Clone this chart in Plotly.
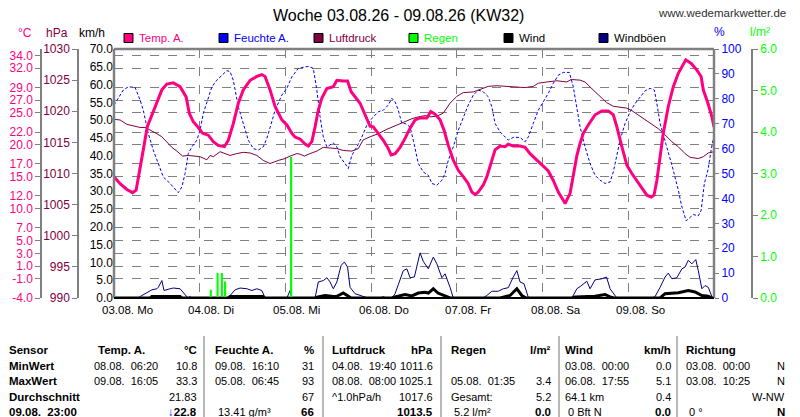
import plotly.graph_objects as go

# Stunden ab 03.08. 00:00
day_h = [0, 24, 48, 72, 96, 120, 144]
day_lbl = ["03.08.  Mo", "04.08.  Di", "05.08.  Mi", "06.08.  Do", "07.08.  Fr", "08.08.  Sa", "09.08.  So"]

temp_h = [0, 1.7, 3.6, 5.2, 6.2, 7.1, 8.2, 9.3, 10.6, 12.0,
          13.4, 14.8, 16.6, 18.5, 20.2, 21.1, 22.2, 23.6, 24.8, 26.4,
          27.8, 29.2, 30.9, 32.0, 33.4, 34.8, 36.2, 38.1, 40.0, 41.4,
          42.3, 43.7, 45.1, 47.0, 48.4, 49.8, 50.7, 52.1, 53.5, 54.4,
          55.4, 56.3, 57.2, 58.2, 59.6, 61.4, 62.4, 64.2, 65.4, 66.4,
          67.5, 68.9, 70.3, 71.7, 72.6, 74.0, 75.4, 76.8, 77.6, 78.7,
          80.1, 81.5, 82.9, 84.3, 85.7, 87.6, 88.7, 89.9, 91.3, 92.4,
          93.6, 95.0, 96.4, 97.8, 99.2, 100.2, 101.1, 102.0, 103.4, 104.4,
          105.5, 106.7, 108.1, 109.5, 110.4, 111.8, 113.7, 115.1, 116.5, 118.4,
          120.2, 121.6, 123.0, 124.4, 125.8, 126.3, 127.7, 128.6, 129.6, 130.5,
          131.4, 132.8, 134.7, 136.6, 138.4, 139.8, 140.8, 142.2, 143.6, 145.0,
          146.4, 147.8, 149.2, 150.4, 151.2, 152.0, 152.9, 153.8, 155.2, 156.6,
          158.0, 159.4, 160.1, 161.7, 163.2, 164.4, 165.0, 166.3, 167.4, 168.0]
temp_c = [15.0, 13.9, 13.0, 12.5, 12.9, 15.5, 19.2, 22.8, 24.7, 26.7,
          28.6, 29.5, 29.7, 29.1, 27.5, 24.9, 23.6, 22.7, 21.8, 21.5,
          20.5, 19.9, 19.7, 20.7, 23.3, 26.5, 28.6, 30.1, 30.7, 31.0,
          30.7, 28.6, 26.0, 23.9, 23.1, 21.8, 21.2, 20.9, 20.1, 19.8,
          20.5, 22.8, 25.4, 27.3, 28.8, 29.1, 30.1, 30.0, 30.0, 28.3,
          27.5, 26.5, 24.7, 22.9, 22.8, 21.8, 20.7, 19.4, 18.4, 18.6,
          19.6, 21.0, 22.6, 23.9, 24.2, 24.2, 25.2, 24.8, 23.9, 22.3,
          19.9, 17.6, 16.0, 15.0, 13.9, 12.6, 12.2, 12.6, 13.7, 15.0,
          17.1, 19.2, 19.8, 19.7, 20.1, 19.8, 19.8, 19.6, 18.6, 17.6,
          16.5, 15.9, 14.4, 12.6, 11.3, 10.8, 12.4, 15.5, 18.3, 20.2,
          21.8, 23.1, 24.7, 25.3, 25.3, 24.7, 22.8, 19.7, 16.8, 15.5,
          14.4, 13.1, 12.1, 11.8, 12.1, 14.4, 18.1, 21.8, 26.0, 29.1,
          31.2, 32.7, 33.3, 32.7, 31.7, 30.7, 28.6, 26.5, 24.4, 22.8]

hum_h = [0, 1.2, 2.6, 4.0, 5.9, 7.3, 8.2, 9.6, 11.0, 12.4,
         13.8, 15.7, 17.1, 18.0, 19.0, 19.9, 20.8, 21.8, 23.2, 24.1,
         25.0, 26.4, 27.4, 28.8, 30.2, 31.6, 32.5, 33.4, 34.8, 36.2,
         37.6, 39.0, 40.4, 41.8, 42.8, 43.7, 45.1, 47.0, 48.4, 49.8,
         51.6, 53.5, 54.6, 55.8, 56.8, 57.7, 58.6, 59.6, 60.5, 61.4,
         62.4, 63.3, 64.7, 65.6, 66.6, 68.0, 69.4, 70.8, 72.2, 74.0,
         75.4, 76.8, 77.8, 78.7, 79.6, 80.6, 81.5, 82.9, 83.8, 85.2,
         86.6, 88.0, 89.0, 90.4, 91.8, 92.7, 93.6, 95.0, 96.4, 97.8,
         99.2, 100.6, 102.0, 103.4, 104.8, 105.8, 106.7, 108.1, 109.5, 110.4,
         111.8, 113.7, 115.1, 116.0, 117.4, 118.8, 120.2, 121.6, 123.0, 124.4,
         125.8, 127.5, 128.6, 129.6, 130.5, 131.9, 133.3, 134.7, 136.1, 137.5,
         138.9, 139.8, 140.8, 141.7, 143.1, 144.5, 145.9, 147.3, 148.7, 150.1,
         151.3, 152.0, 152.9, 154.1, 155.2, 156.6, 158.0, 158.9, 160.2, 162.2,
         163.6, 164.4, 165.3, 166.3, 167.2, 168.0]
hum_pct = [77.5, 80.2, 83.5, 84.8, 84.6, 79.5, 75.4, 66.1, 59.4, 54.0,
           48.6, 46.0, 43.9, 42.3, 44.6, 50.0, 58.0, 60.7, 63.4, 67.4,
           74.1, 80.8, 84.8, 87.5, 89.5, 91.3, 90.9, 87.5, 76.8, 70.1,
           63.4, 60.0, 59.4, 60.7, 64.1, 68.4, 75.4, 81.5, 84.2, 88.8,
           92.2, 92.8, 93.0, 92.2, 83.5, 72.8, 64.7, 60.7, 61.4, 62.3,
           60.7, 56.7, 54.0, 52.0, 57.3, 60.7, 64.7, 69.4, 72.1, 74.8,
           75.4, 77.5, 80.2, 78.8, 75.4, 70.1, 70.1, 68.7, 63.4, 54.0,
           50.6, 49.3, 46.0, 45.3, 47.3, 50.0, 55.3, 60.7, 67.4, 72.8,
           77.5, 81.5, 83.5, 82.8, 80.8, 76.8, 70.1, 66.7, 64.7, 63.4,
           64.5, 64.5, 62.7, 64.7, 70.1, 75.4, 78.8, 82.2, 86.2, 89.5,
           90.6, 90.6, 84.8, 75.5, 68.7, 60.7, 54.0, 49.3, 47.3, 46.0,
           46.6, 50.6, 58.0, 63.4, 70.1, 74.8, 78.1, 80.8, 83.2, 84.2,
           83.5, 78.1, 70.1, 64.1, 58.7, 51.3, 43.3, 37.2, 31.0, 33.5,
           33.0, 35.2, 46.0, 51.3, 59.4, 65.5]

pres_h = [0, 1.7, 3.6, 5.4, 7.3, 8.7, 10.1, 12.0, 13.4, 14.8,
          16.2, 17.6, 19.2, 20.8, 22.2, 24.1, 26.0, 26.9, 27.8, 29.7,
          31.1, 32.5, 34.4, 36.2, 38.1, 40.0, 41.8, 43.7, 46.0, 47.9,
          49.3, 51.2, 52.1, 53.3, 54.9, 56.8, 58.6, 60.5, 62.4, 64.2,
          66.6, 68.4, 69.8, 71.7, 74.0, 76.4, 78.7, 81.0, 83.4, 85.2,
          87.1, 88.5, 90.4, 92.2, 94.1, 96.0, 97.8, 100.6, 102.5, 104.8,
          107.2, 110.0, 112.8, 115.1, 117.4, 118.8, 121.2, 124.0, 126.8, 128.0,
          130.5, 131.9, 133.3, 134.7, 136.6, 137.9, 139.8, 141.7, 143.6, 145.0,
          146.8, 148.7, 150.6, 152.4, 154.3, 156.2, 158.0, 159.9, 161.3, 163.6,
          165.0, 166.4, 168.0]
pres_hpa = [1018.7, 1018.6, 1017.9, 1017.6, 1017.4, 1017.4, 1017.0, 1016.4, 1015.9, 1015.1,
            1014.2, 1013.6, 1012.8, 1012.9, 1012.8, 1012.7, 1012.2, 1012.9, 1012.7, 1013.5,
            1013.2, 1012.9, 1013.2, 1013.4, 1013.3, 1012.9, 1012.1, 1011.6, 1012.1, 1012.4,
            1012.8, 1013.2, 1013.1, 1012.8, 1013.2, 1013.6, 1014.2, 1014.1, 1014.0, 1013.7,
            1013.6, 1014.0, 1015.4, 1015.9, 1016.4, 1017.1, 1017.7, 1018.3, 1018.8, 1019.1,
            1019.3, 1019.1, 1019.2, 1019.7, 1021.3, 1022.4, 1023.0, 1023.1, 1023.5, 1024.0,
            1024.1, 1024.0, 1024.0, 1023.8, 1024.0, 1024.5, 1024.7, 1024.9, 1024.7, 1025.1,
            1025.0, 1024.7, 1023.9, 1023.1, 1022.1, 1021.4, 1020.8, 1020.7, 1020.5, 1020.1,
            1019.4, 1018.6, 1017.8, 1017.2, 1016.2, 1015.1, 1014.3, 1013.2, 1012.6, 1012.4,
            1012.7, 1013.3, 1013.5]

rain_h = [27.1, 29.0, 30.2, 31.1, 49.6]
rain_mm = [0.2, 0.6, 0.6, 0.4, 3.4]

wind_h = [0, 10.1, 10.6, 18.5, 19.0, 31.9, 32.5, 41.7, 42.3, 56.3,
          57.1, 59.1, 61.4, 62.4, 64.2, 65.4, 66.4, 77.8, 78.7, 81.5,
          83.4, 85.2, 87.1, 88.0, 89.4, 90.7, 92.7, 94.1, 108.1, 109.0,
          110.9, 112.8, 114.2, 115.4, 128.2, 129.1, 131.9, 134.7, 137.5, 138.9,
          140.0, 152.9, 154.3, 156.2, 158.0, 160.8, 162.7, 164.6, 166.4, 167.4,
          168.0]
wind_kmh = [0, 0, 0.4, 0.4, 0, 0, 0.4, 0.4, 0, 0,
            0.3, 0.7, 0.4, 0.5, 1.4, 0.7, 0, 0, 0.3, 1.0,
            0.6, 1.4, 1.6, 1.4, 2.6, 1.4, 0.7, 0, 0, 0.2,
            0.7, 2.6, 0.7, 0, 0, 0.3, 0.4, 0.5, 1.0, 0.3,
            0, 0, 1.2, 1.4, 1.5, 2.1, 1.7, 0.7, 0.5, 0,
            0]

gust_h = [0, 6.8, 7.3, 9.2, 10.6, 12.0, 12.4, 13.4, 14.0, 15.7,
          16.6, 18.5, 19.3, 20.4, 20.7, 21.3, 21.8, 31.9, 32.5, 33.9,
          35.3, 37.2, 38.6, 40.0, 41.4, 42.3, 48.4, 49.3, 49.8, 56.3,
          57.2, 58.6, 59.6, 60.5, 61.4, 62.4, 63.6, 64.5, 65.4, 66.1,
          67.5, 70.3, 71.1, 74.5, 75.4, 76.2, 77.8, 78.7, 80.1, 81.0,
          82.0, 82.9, 84.1, 85.0, 85.7, 86.6, 88.0, 89.4, 90.4, 91.8,
          92.7, 94.1, 95.0, 103.3, 104.4, 105.8, 107.6, 109.0, 110.4, 111.8,
          112.8, 113.7, 114.8, 116.0, 116.5, 128.2, 129.6, 130.5, 131.4, 132.4,
          133.3, 134.7, 136.6, 137.9, 138.9, 140.3, 140.8, 150.6, 151.5, 152.9,
          154.3, 155.2, 156.2, 157.6, 159.0, 159.9, 160.8, 161.8, 162.9, 163.6,
          164.6, 165.5, 166.4, 167.4, 168.0]
gust_kmh = [0, 0, 0.4, 1.6, 2.3, 2.6, 3.0, 4.9, 2.1, 2.6,
            2.8, 2.6, 1.6, 0.5, 0, 0.4, 0, 0, 0.7, 2.3,
            2.8, 2.6, 2.1, 2.6, 2.1, 0, 0, 2.1, 0, 0,
            4.5, 4.9, 5.7, 4.5, 2.6, 4.5, 9.2, 10.1, 8.7, 3.0,
            1.2, 0.4, 0, 0, 0.4, 0, 0, 1.2, 4.9, 7.7,
            8.2, 5.7, 5.9, 9.6, 12.7, 10.3, 8.2, 11.5, 9.6, 5.7,
            6.8, 3.0, 0, 0, 0.7, 1.9, 1.9, 2.6, 2.9, 5.9,
            7.7, 4.5, 4.0, 0.2, 0, 0, 2.6, 3.2, 4.0, 4.7,
            2.6, 5.1, 5.4, 5.9, 2.6, 0.4, 0, 0, 0.4, 3.0,
            5.9, 7.0, 5.4, 5.7, 8.2, 8.7, 10.6, 9.6, 10.8, 7.7,
            2.6, 3.5, 3.0, 0.4, 0]

temp_ticks = [34, 32, 29, 27, 25, 22, 20, 17, 15, 12, 10, 7, 5, 3, 1, -1, -4]
kmh_ticks = list(range(0, 71, 5))

# Tabelle unten
tab_rows = [
    ["Sensor", "Temp. A.", "°C", "Feuchte A.", "%", "Luftdruck", "hPa", "Regen", "l/m²", "Wind", "km/h", "Richtung", ""],
    ["MinWert", "08.08.  06:20", "10.8", "09.08.  16:10", "31", "04.08.  19:40", "1011.6", "", "", "03.08.  00:00", "0.0", "03.08.  00:00", "N"],
    ["MaxWert", "09.08.  16:05", "33.3", "05.08.  06:45", "93", "08.08.  08:00", "1025.1", "05.08.  01:35", "3.4", "06.08.  17:55", "5.1", "03.08.  10:25", "N"],
    ["Durchschnitt", "", "21.83", "", "67", "^1.0hPa/h", "1017.6", "Gesamt:", "5.2", "64.1 km", "0.4", "", "W-NW"],
    ["09.08.  23:00", "", "<span style='color:#0000ff'>↓</span>22.8", "13.41 g/m³", "66", "", "1013.5", "5.2 l/m²", "0.0", "0 Bft N", "0.0", "0 °", "N"],
]

W, H = 800, 417


def fx(x):
    return x / W


def fy(y):
    return 1 - y / H


MAG = "#ff0080"
BLUE = "#0000ff"
MAROON = "#800040"
GREEN = "#00ff00"
NAVY = "#000080"
GRAY = "#808080"

fig = go.Figure()
fig.add_trace(go.Scatter(x=gust_h, y=gust_kmh, yaxis="y", mode="lines", line=dict(color=NAVY, width=1)))
fig.add_trace(go.Scatter(x=wind_h, y=wind_kmh, yaxis="y", mode="lines", line=dict(color="black", width=3)))
fig.add_trace(go.Bar(x=rain_h, y=rain_mm, yaxis="y2", width=0.6, marker=dict(color=GREEN, line_width=0)))
fig.add_trace(go.Scatter(x=hum_h, y=hum_pct, yaxis="y3", mode="lines", line=dict(color=BLUE, width=1, dash="3px,2px")))
fig.add_trace(go.Scatter(x=pres_h, y=pres_hpa, yaxis="y4", mode="lines", line=dict(color=MAROON, width=1)))
fig.add_trace(go.Scatter(x=temp_h, y=temp_c, yaxis="y5", mode="lines", line=dict(color=MAG, width=3)))

ydom = [fy(298), fy(49)]
fig.update_layout(
    width=W, height=H, template="none", showlegend=False,
    margin=dict(l=0, r=0, t=0, b=0),
    paper_bgcolor="white", plot_bgcolor="white",
    font=dict(family="Liberation Sans, Arial, sans-serif", size=12, color="black"),
    xaxis=dict(domain=[fx(114), fx(714)], range=[0, 168], tickvals=day_h, showticklabels=False,
               ticks="", showgrid=True, gridcolor=GRAY, griddash="dash", gridwidth=1,
               zeroline=False, showline=False),
    yaxis=dict(domain=ydom, range=[0, 70], tickvals=kmh_ticks, ticktext=[f"{v:.1f}" for v in kmh_ticks],
               ticks="", showgrid=False, zeroline=False, showline=False, tickfont=dict(size=12, color="black")),
    yaxis2=dict(overlaying="y", anchor="free", position=fx(752), side="right", range=[0, 6],
                tickvals=[0, 1, 2, 3, 4, 5, 6], ticktext=[f"{v:.1f}" for v in range(7)],
                showline=True, linecolor=GRAY, linewidth=1.5, ticks="outside", ticklen=5, tickcolor=GRAY,
                showgrid=False, zeroline=False, tickfont=dict(size=12, color=GREEN)),
    yaxis3=dict(overlaying="y", anchor="x", side="right", range=[0, 100], dtick=10,
                ticks="outside", ticklen=4, tickcolor=GRAY, showgrid=False, zeroline=False, showline=False,
                tickfont=dict(size=12, color=BLUE)),
    yaxis4=dict(overlaying="y", anchor="free", position=fx(78), side="left", range=[990, 1030], dtick=5,
                showline=True, linecolor=GRAY, linewidth=1.5, ticks="outside", ticklen=5, tickcolor=GRAY,
                showgrid=False, zeroline=False, tickfont=dict(size=12, color=MAROON)),
    yaxis5=dict(overlaying="y", anchor="free", position=fx(41), side="left", range=[-4, 35],
                tickvals=temp_ticks, ticktext=[f"{v:.1f}" for v in temp_ticks],
                showline=True, linecolor=GRAY, linewidth=1.5, ticks="outside", ticklen=5, tickcolor=GRAY,
                showgrid=True, gridcolor=GRAY, griddash="dash", gridwidth=1, zeroline=False,
                tickfont=dict(size=12, color=MAG)),
)

# Rahmen
for x0, y0, x1, y1, c, w in [(0, 0, 0, 1, GRAY, 2.5), (0, 1, 1, 1, GRAY, 2.5), (1, 0, 1, 1, GRAY, 2.5),
                             (0, 0, 1, 0, "black", 2)]:
    fig.add_shape(type="line", xref="x domain", yref="y domain", x0=x0, y0=y0, x1=x1, y1=y1,
                  line=dict(color=c, width=w), layer="above")


def txt(x, y, s, color="black", size=11.5, anchor="left", bold=False):
    if bold and s:
        s = "<b>" + s + "</b>"
    fig.add_annotation(x=fx(x), y=fy(y), xref="paper", yref="paper", text=s, showarrow=False,
                       xanchor=anchor, yanchor="middle", font=dict(color=color, size=size))


txt(398, 15, "Woche 03.08.26 - 09.08.26 (KW32)", size=16, anchor="center")
txt(722, 13, "www.wedemarkwetter.de", color="#303030", size=11.5, anchor="center")

# Achsentitel
txt(25, 33, "°C", MAG, 12, "center")
txt(57, 33, "hPa", MAROON, 12, "center")
txt(92, 33, "km/h", "black", 12, "center")
txt(719, 32, "%", BLUE, 12, "center")
txt(760, 32, "l/m²", GREEN, 12, "center")

# Legende
leg = [("Temp. A.", MAG, MAG), ("Feuchte A.", BLUE, BLUE), ("Luftdruck", MAROON, MAROON),
       ("Regen", GREEN, GREEN), ("Wind", "black", "black"), ("Windböen", NAVY, "black")]
for i, (name, box, tcol) in enumerate(leg):
    x0 = 124 + 95 * i
    fig.add_shape(type="rect", xref="paper", yref="paper", x0=fx(x0), x1=fx(x0 + 9), y0=fy(42.5), y1=fy(33.5),
                  fillcolor=box, line=dict(color="black", width=1))
    txt(x0 + 13, 38, name, tcol, 11.5)

# x-Beschriftung
for h, lbl in zip(day_h, day_lbl):
    fig.add_annotation(x=h, y=fy(310), xref="x", yref="paper", text=lbl.replace("  ", "\u00a0"),
                       showarrow=False, xanchor="left", yanchor="middle", xshift=-14,
                       font=dict(size=11.5, color="black"))

# Tabelle
row_y = [350, 365.5, 381, 396.5, 412]
date_x = [92, 213, 330, 449, 563, 684]
val_x = [199, 316, 435, 553, 673, 787]
sep_x = [204, 323, 441, 559, 677]
for sx in sep_x:
    fig.add_shape(type="line", xref="paper", yref="paper", x0=fx(sx), x1=fx(sx), y0=fy(336), y1=fy(417),
                  line=dict(color="#a0a0a0", width=1.5))
for r, row in enumerate(tab_rows):
    y = row_y[r]
    txt(7, y, row[0].replace("  ", "\u00a0\u00a0"), bold=True)
    for c in range(6):
        d = row[1 + 2 * c].replace("  ", "\u00a0\u00a0")
        v = row[2 + 2 * c]
        dx = date_x[c] + (4 if r == 0 and c == 0 else 0) + (3 if r == 4 else 0)
        hdr = r == 0
        txt(dx, y, d, size=11.5 if hdr else 11, bold=hdr)
        txt(val_x[c], y, v, size=11.5 if (hdr or r == 4) else 11, anchor="right", bold=(hdr or r == 4))

# Seite ohne Rand, damit 800x417 exakt passt
fig.write_html("out.html", config={"displayModeBar": False},
               post_script="document.body.style.margin='0';document.body.style.overflow='hidden';")
